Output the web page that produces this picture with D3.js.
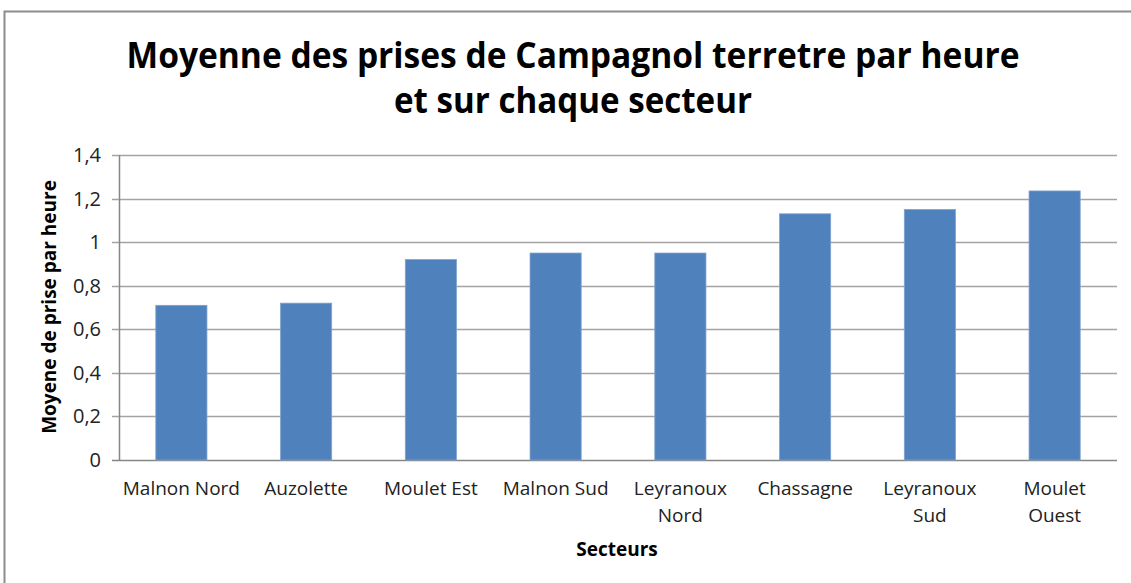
<!DOCTYPE html>
<html>
<head>
<meta charset="utf-8">
<style>
    body { margin: 0; background: #fff; }
    svg { display: block; font-family: 'Open Sans', sans-serif; }
</style>
</head>
<body>
<svg width="1131" height="583"></svg>
<script src="https://d3js.org/d3.v7.min.js"></script>
<script>
    // data
    let secteurs = ["Malnon Nord", "Auzolette", "Moulet Est", "Malnon Sud", "Leyranoux Nord", "Chassagne", "Leyranoux Sud", "Moulet Ouest"]
    let moyennes = [0.71, 0.72, 0.92, 0.95, 0.95, 1.13, 1.15, 1.235]
    let yTicks = [0, 0.2, 0.4, 0.6, 0.8, 1, 1.2, 1.4]
    let titleLines = ["Moyenne des prises de Campagnol terretre par heure", "et sur chaque secteur"]

    let svg = d3.select("svg")
    let margin = { top: 155, right: 14, bottom: 123, left: 119 }
    let width = 1131, height = 583

    // chart frame
    svg.append("rect")
        .attr("x", 4.5).attr("y", 11.5)
        .attr("width", 1200).attr("height", 700)
        .attr("fill", "none")
        .attr("stroke", "#8c8c8c")
        .attr("stroke-width", 2)

    let x = d3.scaleBand()
        .domain(secteurs)
        .range([margin.left, width - margin.right])
        .paddingInner(0.59)
        .paddingOuter(0.295)

    let y = d3.scaleLinear()
        .domain([0, 1.4])
        .range([height - margin.bottom, margin.top])

    let comma = d => String(d).replace(".", ",")

    // gridlines
    svg.append("g")
        .selectAll("line")
        .data(yTicks)
        .join("line")
        .attr("x1", margin.left - 7)
        .attr("x2", width - margin.right)
        .attr("y1", d => Math.round(y(d)) + 0.5)
        .attr("y2", d => Math.round(y(d)) + 0.5)
        .attr("stroke", d => d == 0 ? "#868686" : "#a3a3a3")
        .attr("stroke-width", 1.5)

    // y axis line
    svg.append("line")
        .attr("x1", margin.left + 0.5).attr("x2", margin.left + 0.5)
        .attr("y1", y(1.4)).attr("y2", y(0))
        .attr("stroke", "#868686")
        .attr("stroke-width", 1.5)

    svg.append("g")
        .selectAll("text")
        .data(yTicks)
        .join("text")
        .attr("x", margin.left - 18)
        .attr("y", d => y(d))
        .attr("dy", "0.35em")
        .attr("text-anchor", "end")
        .attr("font-size", 20)
        .attr("fill", "#222")
        .text(comma)

    // bars
    svg.append("g")
        .selectAll("rect")
        .data(moyennes)
        .join("rect")
        .attr("x", (d, i) => x(secteurs[i]))
        .attr("y", d => y(d))
        .attr("width", x.bandwidth())
        .attr("height", d => y(0) - y(d))
        .attr("fill", "#4f81bd")
        .attr("stroke", "#7fa3cf")
        .attr("stroke-width", 0.8)

    // category labels (wrap two-word names like the reference)
    let wraps = { "Leyranoux Nord": ["Leyranoux", "Nord"], "Leyranoux Sud": ["Leyranoux", "Sud"], "Moulet Ouest": ["Moulet", "Ouest"] }
    svg.append("g")
        .selectAll("text")
        .data(secteurs)
        .join("text")
        .attr("x", d => x(d) + x.bandwidth() / 2)
        .attr("y", 495)
        .attr("text-anchor", "middle")
        .attr("font-size", 19)
        .attr("fill", "#222")
        .each(function (d) {
            let lines = wraps[d] || [d]
            d3.select(this).selectAll("tspan")
                .data(lines)
                .join("tspan")
                .attr("x", x(d) + x.bandwidth() / 2)
                .attr("dy", (l, i) => i == 0 ? 0 : 27)
                .text(l => l)
        })

    // axis titles
    svg.append("text")
        .attr("x", 617).attr("y", 556)
        .attr("text-anchor", "middle")
        .attr("font-size", 19)
        .attr("font-weight", "bold")
        .text("Secteurs")

    svg.append("text")
        .attr("transform", "translate(56,307) rotate(-90)")
        .attr("text-anchor", "middle")
        .attr("font-size", 19)
        .attr("font-weight", "bold")
        .text("Moyene de prise par heure")

    // title, squeezed to the narrow width of the original face
    let titleWidths = [893, 358]
    svg.append("g")
        .selectAll("text")
        .data(titleLines)
        .join("text")
        .attr("x", 573)
        .attr("y", (d, i) => 68 + i * 45)
        .attr("text-anchor", "middle")
        .attr("font-size", 35)
        .attr("font-weight", "bold")
        .attr("textLength", (d, i) => titleWidths[i])
        .attr("lengthAdjust", "spacingAndGlyphs")
        .text(d => d)
</script>
</body>
</html>
